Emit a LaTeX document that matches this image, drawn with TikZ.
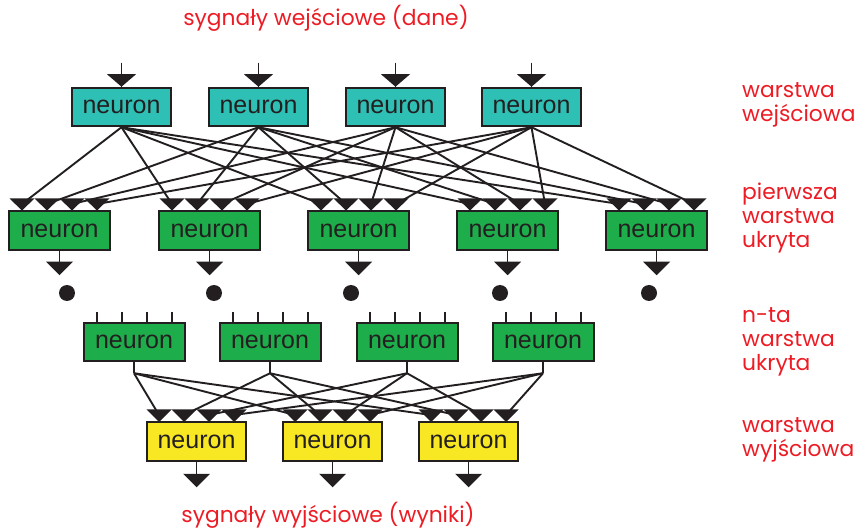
\documentclass[tikz,border=0pt]{standalone}
\usepackage{fontspec}
\setmainfont{Liberation Sans}
\newfontfamily\labfont{Poppins}
\usetikzlibrary{calc}
\definecolor{teal1}{RGB}{46,191,181}
\definecolor{green1}{RGB}{29,173,75}
\definecolor{yellow1}{RGB}{248,232,36}
\definecolor{red1}{RGB}{237,28,36}
\definecolor{ink}{RGB}{35,31,32}
\begin{document}
\begin{tikzpicture}[x=1pt,y=-1pt,
  nbox/.style={draw=ink,line width=2pt,inner sep=0pt,minimum height=38.5pt,
    font=\fontsize{25}{28}\selectfont\color{ink}},
  inbox/.style={nbox,fill=teal1,minimum width=99.5pt},
  hbox/.style={nbox,fill=green1,minimum width=101pt},
  obox/.style={nbox,fill=yellow1,minimum width=99.5pt},
  conn/.style={draw=ink,line width=1.9pt},
  tri/.style={fill=ink},
  lab/.style={text=red1,font=\labfont\fontsize{21.8}{24}\selectfont,align=left,inner sep=0pt}]
\useasboundingbox (0,0) rectangle (860,529);

% input layer
\foreach \x [count=\i] in {121.5,258.5,395.5,531.5}{
  \node[inbox] (in\i) at (\x,107) {neuron};
  \coordinate (ia\i) at ($(in\i.north)+(0,-24)$);
  \draw[conn] (ia\i) -- (in\i.north);
  \fill[tri] ($(in\i.north)+(-14.5,-12.5)$) -- ++(29,0) -- (in\i.north) -- cycle;
}

% first hidden layer
\foreach \l [count=\j] in {8,158,307,456,605}{
  \pgfmathsetmacro\cx{\l+51.5}
  \node[hbox] (h\j) at (\cx,230.5) {neuron};
  \foreach \k in {1,...,4}{
    \pgfmathsetmacro\tx{\l+14+25*(\k-1)}
    \coordinate (h\j-\k) at (\tx,204);
  }
}
\foreach \i in {1,...,4}{
  \foreach \j in {1,...,5}{
    \draw[conn] (in\i.south) -- (h\j-\i);
  }
}
\foreach \j in {1,...,5}{
  \foreach \k in {1,...,4}{
    \fill[tri] ($(h\j-\k)+(-12.5,-5.5)$) -- ++(25,0) -- ++(-12.5,12) -- cycle;
  }
  \coordinate (ha\j) at ($(h\j.south)+(0,11)$);
  \draw[conn] (h\j.south) -- (ha\j);
  \fill[tri] ($(ha\j)+(-13.5,0)$) -- ++(27,0) -- ++(-13.5,13.5) -- cycle;
}
\foreach \x in {67,214,351,500,649}{
  \fill[ink] (\x,293) circle (8);
}

% n-th hidden layer
\foreach \l [count=\i] in {83,219,356,492}{
  \pgfmathsetmacro\cx{\l+51}
  \node[hbox] (n\i) at (\cx,342) {neuron};
  \foreach \k in {1,...,4}{
    \pgfmathsetmacro\tx{\l+14+25*(\k-1)}
    \draw[conn] (\tx,312) -- (\tx,322);
  }
  \coordinate (f\i) at ($(n\i.south)+(0,11)$);
  \draw[conn] (n\i.south) -- (f\i);
}

% output layer
\foreach \l [count=\j] in {146,282,418}{
  \pgfmathsetmacro\cx{\l+50.5}
  \node[obox] (o\j) at (\cx,441.5) {neuron};
  \foreach \k in {1,...,4}{
    \pgfmathsetmacro\tx{\l+13+25*(\k-1)}
    \coordinate (o\j-\k) at (\tx,415);
  }
}
\foreach \i in {1,...,4}{
  \foreach \j in {1,...,3}{
    \draw[conn] (f\i) -- (o\j-\i);
  }
}
\foreach \j in {1,...,3}{
  \foreach \k in {1,...,4}{
    \fill[tri] ($(o\j-\k)+(-12.5,-5.5)$) -- ++(25,0) -- ++(-12.5,12.5) -- cycle;
  }
  \coordinate (oa\j) at ($(o\j.south)+(0,12)$);
  \draw[conn] (o\j.south) -- (oa\j);
  \fill[tri] ($(oa\j)+(-13.5,0)$) -- ++(27,0) -- ++(-13.5,13.5) -- cycle;
}

% labels
\node[lab] (t1) at (326,18) {sygnały wejściowe (dane)};
\node[lab] (t2) at (328,515) {sygnały wyjściowe (wyniki)};
\node[lab,anchor=west] (l1) at (742,105) {warstwa\\wejściowa};
\node[lab,anchor=west] (l2) at (742,218) {pierwsza\\warstwa\\ukryta};
\node[lab,anchor=west] (l3) at (742,342) {n-ta\\warstwa\\ukryta};
\node[lab,anchor=west] (l4) at (742,440) {warstwa\\wyjściowa};
\end{tikzpicture}
\end{document}
